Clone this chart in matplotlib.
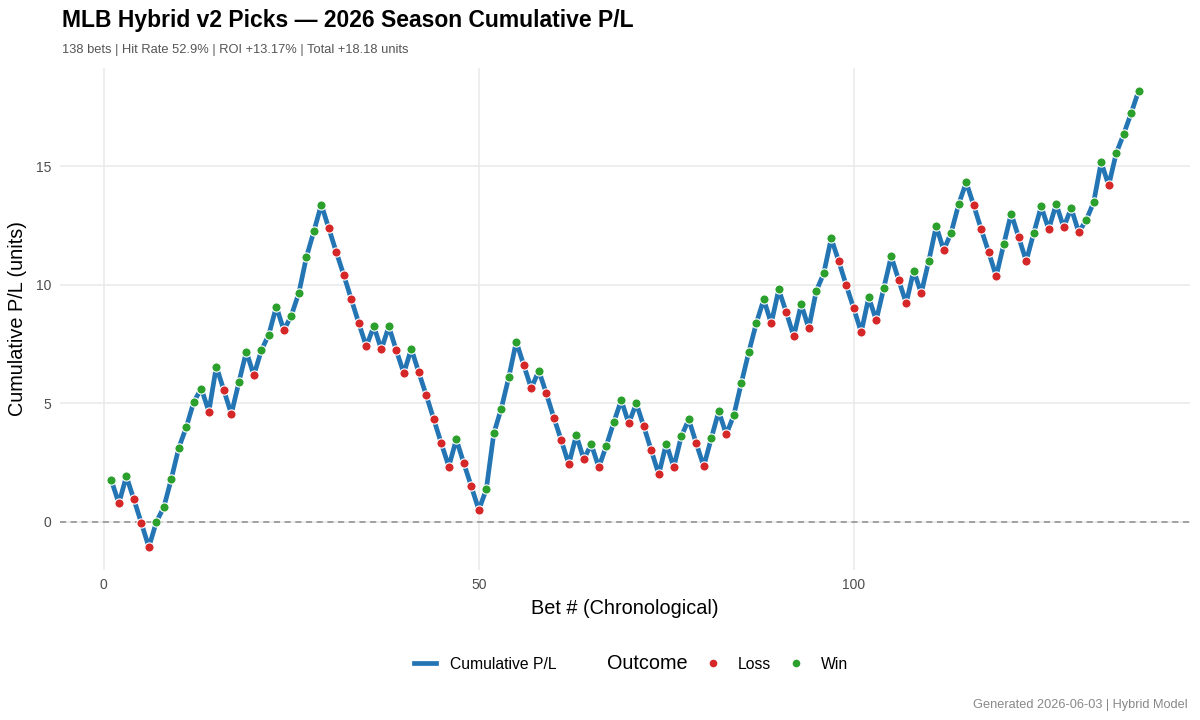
import matplotlib
matplotlib.use("Agg")
import matplotlib.pyplot as plt
from matplotlib.lines import Line2D
import numpy as np

plt.rcParams['font.family'] = ['Liberation Sans', 'DejaVu Sans']

bet_no = list(range(1, 139))
cum_pl = [
    1.75, 0.78, 1.92, 0.95, -0.05, -1.07, 0.00, 0.62, 1.82, 3.13,
    4.00, 5.07, 5.62, 4.65, 6.55, 5.55, 4.55, 5.88, 7.18, 6.18,
    7.23, 7.90, 9.08, 8.08, 8.70, 9.65, 11.15, 12.25, 13.38, 12.38,
    11.37, 10.40, 9.38, 8.37, 7.40, 8.25, 7.27, 8.24, 7.23, 6.27,
    7.30, 6.30, 5.33, 4.32, 3.31, 2.33, 3.48, 2.47, 1.50, 0.50,
    1.37, 3.73, 4.78, 6.10, 7.60, 6.60, 5.63, 6.38, 5.42, 4.40,
    3.44, 2.43, 3.65, 2.64, 3.27, 2.30, 3.20, 4.20, 5.13, 4.15,
    5.00, 4.03, 3.02, 2.00, 3.30, 2.30, 3.60, 4.32, 3.31, 2.34,
    3.52, 4.66, 3.69, 4.49, 5.84, 7.15, 8.37, 9.38, 8.37, 9.80,
    8.84, 7.83, 9.18, 8.16, 9.73, 10.48, 11.96, 10.99, 9.98, 9.00,
    8.00, 9.47, 8.50, 9.85, 11.20, 10.19, 9.22, 10.60, 9.64, 10.99,
    12.47, 11.46, 12.20, 13.40, 14.32, 13.35, 12.34, 11.37, 10.36, 11.70,
    13.00, 12.00, 11.00, 12.17, 13.30, 12.34, 13.40, 12.42, 13.23, 12.22,
    12.72, 13.48, 15.17, 14.19, 15.54, 16.35, 17.24, 18.18,
]
outcome = [
    'W','L','W','L','L','L','W','W','W','W',
    'W','W','W','L','W','L','L','W','W','L',
    'W','W','W','L','W','W','W','W','W','L',
    'L','L','L','L','L','W','L','W','L','L',
    'W','L','L','L','L','L','W','L','L','L',
    'W','W','W','W','W','L','L','W','L','L',
    'L','L','W','L','W','L','W','W','W','L',
    'W','L','L','L','W','L','W','W','L','L',
    'W','W','L','W','W','W','W','W','L','W',
    'L','L','W','L','W','W','W','L','L','L',
    'L','W','L','W','W','L','L','W','L','W',
    'W','L','W','W','W','L','L','L','L','W',
    'W','L','L','W','W','L','W','L','W','L',
    'W','W','W','L','W','W','W','W',
]

title = "MLB Hybrid v2 Picks \u2014 2026 Season Cumulative P/L"
subtitle = "138 bets | Hit Rate 52.9% | ROI +13.17% | Total +18.18 units"
caption = "Generated 2026-06-03 | Hybrid Model"
x_ticks = [0, 50, 100]
y_ticks = [0, 5, 10, 15]

line_color = '#2475b4'
loss_color = '#d62728'
win_color = '#2ca02c'
grid_color = '#ebebeb'
tick_color = '#4d4d4d'

fig = plt.figure(figsize=(12, 7.2), dpi=100)
ax = fig.add_axes([0.05, 0.2083, 0.9417, 0.6973])

x = np.array(bet_no)
y = np.array(cum_pl)
oc = np.array(outcome)

ax.axhline(0, color='#8c8c8c', linestyle=(0, (4, 3)), linewidth=1.1, zorder=1)
ax.plot(x, y, color=line_color, linewidth=3.4, zorder=2, solid_capstyle='butt')
mL = oc == 'L'
mW = oc == 'W'
ax.scatter(x[mL], y[mL], s=44, color=loss_color, edgecolor='white', linewidth=0.8, zorder=3)
ax.scatter(x[mW], y[mW], s=44, color=win_color, edgecolor='white', linewidth=0.8, zorder=3)

xr = x.max() - x.min()
yr = y.max() - y.min()
ax.set_xlim(x.min() - 0.05 * xr, x.max() + 0.05 * xr)
ax.set_ylim(y.min() - 0.05 * yr, y.max() + 0.05 * yr)
ax.set_xticks(x_ticks)
ax.set_yticks(y_ticks)
ax.grid(True, color=grid_color, linewidth=1.2, zorder=0)
ax.set_axisbelow(True)
for s in ax.spines.values():
    s.set_visible(False)
ax.tick_params(length=0, labelsize=10, labelcolor=tick_color, pad=6)

ax.set_xlabel("Bet # (Chronological)", fontsize=14.3, color='black', labelpad=5)
ax.set_ylabel("Cumulative P/L (units)", fontsize=14.3, color='black', labelpad=7)

fig.text(0.052, 0.962, title, fontsize=16.5, fontweight='bold', ha='left', va='baseline')
fig.text(0.052, 0.926, subtitle, fontsize=9.3, color='#555555', ha='left', va='baseline')
fig.text(0.990, 0.016, caption, fontsize=9.2, color='#888888', ha='right', va='baseline')

handles = [
    Line2D([], [], color=line_color, linewidth=3.4),
    Line2D([], [], linestyle='none', marker=None),
    Line2D([], [], linestyle='none', marker='o', markersize=6.5, color=loss_color, markeredgecolor='white'),
    Line2D([], [], linestyle='none', marker='o', markersize=6.5, color=win_color, markeredgecolor='white'),
]
labels = ["Cumulative P/L", "Outcome", "Loss", "Win"]
leg = fig.legend(handles, labels, loc='center', bbox_to_anchor=(0.526, 0.079), ncol=4,
                 frameon=False, fontsize=11.3, handlelength=1.4, handletextpad=0.9,
                 columnspacing=0.9)
texts = leg.get_texts()
texts[1].set_fontsize(14.3)

fig.savefig("out.png", dpi=100)
